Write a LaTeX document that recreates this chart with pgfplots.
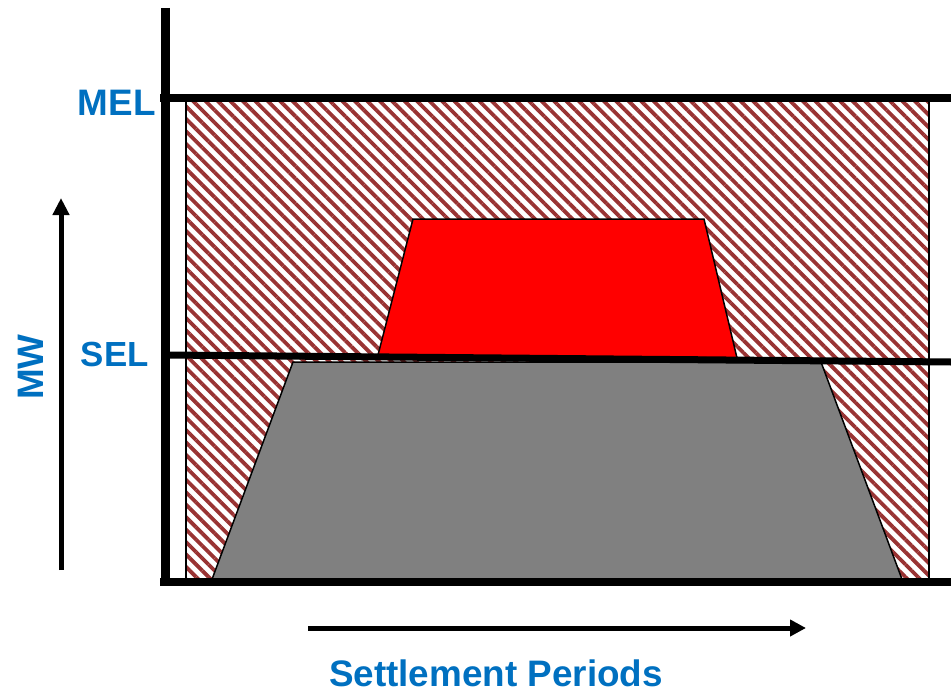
\documentclass[border=0pt]{standalone}
\usepackage{pgfplots}
\pgfplotsset{compat=1.18}
\usepackage{fontspec}
\setmainfont{Liberation Sans}
\usetikzlibrary{patterns.meta,arrows.meta}
\definecolor{lblue}{HTML}{0070C0}
\definecolor{hatch}{HTML}{993333}
\definecolor{gblock}{HTML}{808080}
\begin{document}
\begin{tikzpicture}
\begin{axis}[
    width=951bp, height=692bp, scale only axis,
    xmin=0, xmax=951, ymin=0, ymax=692,
    y dir=reverse, hide axis, clip=false,
  ]
  % hatched band between zero and MEL
  \addplot[pattern={Lines[angle=-45,distance=8.8bp,line width=3.8bp]}, pattern color=hatch,
           draw=black, line width=1.2bp]
    coordinates {(186,100) (929,100) (929,580) (186,580)} -- cycle;
  % red block above SEL
  \addplot[fill=red, draw=black, line width=1.5bp]
    coordinates {(413,219) (704,219) (737,358) (378,355)} -- cycle;
  % grey block below SEL
  \addplot[fill=gblock, draw=black, line width=1.5bp]
    coordinates {(293,362) (821,362) (903,582) (211,582)} -- cycle;
  % limit lines and axes
  \addplot[black, line width=8bp] coordinates {(160,98) (951,98)};
  \addplot[black, line width=7bp] coordinates {(165,355) (951,362)};
  \addplot[black, line width=8bp] coordinates {(160,582) (951,582)};
  \addplot[black, line width=9bp] coordinates {(165,8) (165,586)};
  % arrows
  \addplot[black, line width=5bp, -{Triangle[length=17bp,width=16bp]}]
    coordinates {(61,570) (61,198)};
  \addplot[black, line width=5bp, -{Triangle[length=16bp,width=16bp]}]
    coordinates {(308,628) (806,628)};
  % labels
  \node[anchor=base east, text=lblue, font=\bfseries\fontsize{37}{40}\selectfont, inner sep=0pt]
    at (156,115) {MEL};
  \node[anchor=base east, text=lblue, font=\bfseries\fontsize{35}{40}\selectfont, inner sep=0pt]
    at (149,366) {SEL};
  \node[anchor=base, rotate=90, text=lblue, font=\bfseries\fontsize{37}{40}\selectfont, inner sep=0pt]
    at (43,367) {MW};
  \node[anchor=base, text=lblue, font=\bfseries\fontsize{37}{40}\selectfont, inner sep=0pt]
    at (496,686) {Settlement Periods};
\end{axis}
\pgfresetboundingbox
\path (0,0) rectangle (951bp,692bp);
\end{tikzpicture}
\end{document}
